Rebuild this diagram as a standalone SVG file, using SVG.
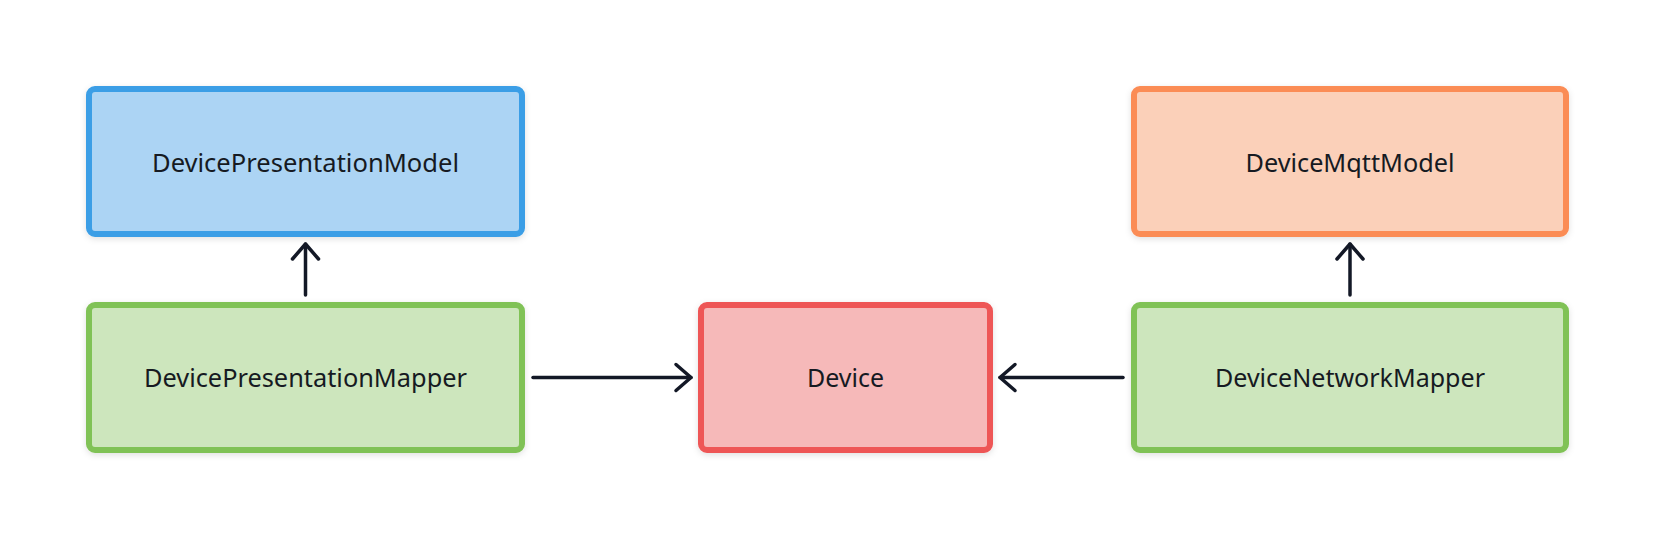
<svg xmlns="http://www.w3.org/2000/svg" width="1656" height="540" viewBox="0 0 1656 540">
  <defs>
    <filter id="sh" x="-10%" y="-10%" width="120%" height="130%">
      <feDropShadow dx="0" dy="2" stdDeviation="3" flood-color="#000000" flood-opacity="0.12"/>
    </filter>
    <marker id="arr" viewBox="-18 -16 22 32" markerWidth="22" markerHeight="32" refX="0" refY="0" orient="auto" markerUnits="userSpaceOnUse">
      <path d="M -15 -13 L 0 0 L -15 13" fill="none" stroke="#131826" stroke-width="3.5" stroke-linecap="round" stroke-linejoin="round"/>
    </marker>
    <style>
      .box { stroke-width: 6; filter: url(#sh); }
      .blue { fill: #acd4f4; stroke: #3a9ee6; }
      .green { fill: #cde6bd; stroke: #80c257; }
      .red { fill: #f6b9b9; stroke: #ee5656; }
      .orange { fill: #fbd0b9; stroke: #fb8c55; }
      .lbl { font-family: "Noto Sans", "Open Sans", sans-serif; font-size: 25px; fill: #161a22; text-anchor: middle; }
      .conn { stroke: #131826; stroke-width: 3.5; fill: none; stroke-linecap: round; marker-end: url(#arr); }
    </style>
  </defs>
  <rect width="1656" height="540" fill="#ffffff"/>
  <g id="connectors">
    <line class="conn" x1="305.5" y1="295" x2="305.5" y2="244"/>
    <line class="conn" x1="1350" y1="295" x2="1350" y2="244"/>
    <line class="conn" x1="533" y1="377.5" x2="691" y2="377.5"/>
    <line class="conn" x1="1123" y1="377.5" x2="1000" y2="377.5"/>
  </g>
  <g id="DevicePresentationModel">
    <rect class="box blue" x="89" y="89" width="433" height="145" rx="6"/>
    <text class="lbl" x="305.5" y="172" textLength="307" lengthAdjust="spacingAndGlyphs">DevicePresentationModel</text>
  </g>
  <g id="DevicePresentationMapper">
    <rect class="box green" x="89" y="305" width="433" height="145" rx="6"/>
    <text class="lbl" x="305.5" y="387" textLength="323" lengthAdjust="spacingAndGlyphs">DevicePresentationMapper</text>
  </g>
  <g id="Device">
    <rect class="box red" x="701" y="305" width="289" height="145" rx="6"/>
    <text class="lbl" x="845.5" y="387" textLength="77" lengthAdjust="spacingAndGlyphs">Device</text>
  </g>
  <g id="DeviceMqttModel">
    <rect class="box orange" x="1134" y="89" width="432" height="145" rx="6"/>
    <text class="lbl" x="1350" y="172" textLength="209" lengthAdjust="spacingAndGlyphs">DeviceMqttModel</text>
  </g>
  <g id="DeviceNetworkMapper">
    <rect class="box green" x="1134" y="305" width="432" height="145" rx="6"/>
    <text class="lbl" x="1350" y="387" textLength="270" lengthAdjust="spacingAndGlyphs">DeviceNetworkMapper</text>
  </g>
</svg>
